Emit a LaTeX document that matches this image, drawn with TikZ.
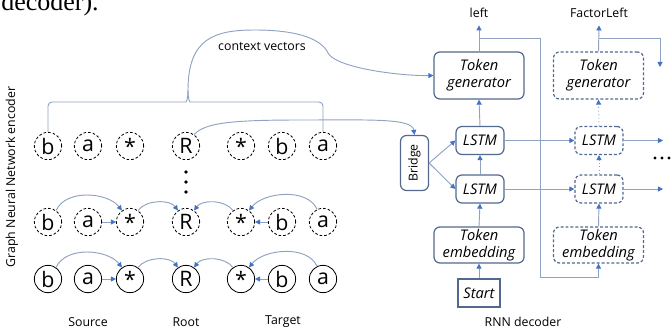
\documentclass[tikz,border=0pt]{standalone}
\usepackage{fontspec}
\setmainfont{Open Sans}
\newfontfamily\seriffam{Liberation Serif}
\usetikzlibrary{arrows.meta,calc}
\definecolor{linec}{HTML}{8FA2C2}
\definecolor{tipc}{HTML}{4472C4}
\definecolor{boxc}{HTML}{52688F}
\begin{document}
\begin{tikzpicture}[x=0.75pt,y=-0.75pt,
 conn/.style={draw=linec,line width=0.7pt},
 arr/.style={-{Triangle[length=3.8pt,width=3.8pt,color=tipc]}},
 circ/.style={circle,draw=black,line width=0.6pt,minimum size=20.5pt,inner sep=0pt,font=\fontsize{16}{18}\selectfont},
 dcirc/.style={circ,dash pattern=on 2pt off 1.5pt},
 rbox/.style={draw=boxc,line width=0.9pt,rounded corners=4.5pt,inner sep=0pt,align=center,font=\fontsize{11}{12.5}\selectfont\itshape},
 dbox/.style={rbox,dash pattern=on 2.2pt off 1.5pt},
 lab/.style={font=\fontsize{9.25}{11}\selectfont},
]
\useasboundingbox (0,0) rectangle (672,333);

% text fragment at top
\node[anchor=base west,inner sep=0pt,font=\seriffam\fontsize{19.5}{22}\selectfont] (frag) at (1,10) {decoder).};

% encoder circles
\foreach \n/\x/\t in {b/48/b, a/88/a, s/130/\raisebox{-2.5pt}{*}, R/186/R, ts/241/\raisebox{-2.5pt}{*}, tb/282/b, ta/323/a} {
  \node[dcirc] (\n1) at (\x,146) {\t};
  \node[dcirc] (\n2) at (\x,222) {\t};
  \node[circ] (\n3) at (\x,279) {\t};
}
\foreach \r in {2,3} {
  \draw[conn,arr] (b\r.55) .. controls +(10,-22) and +(-14,-18) .. (s\r.125);
  \draw[conn,arr] (a\r.east) -- (s\r.west);
  \draw[conn,arr] (s\r.55) .. controls +(8,-11) and +(-8,-11) .. (R\r.125);
  \draw[conn,arr] (ts\r.125) .. controls +(-8,-11) and +(8,-11) .. (R\r.55);
  \draw[conn,arr] (tb\r.west) -- (ts\r.east);
  \draw[conn,arr] (ta\r.115) .. controls +(-10,-22) and +(14,-18) .. (ts\r.55);
}
\fill (186,172) circle (1.4pt);
\fill (186,182) circle (1.4pt);
\fill (186,192) circle (1.4pt);

\node[lab,rotate=90] (gnn) at (12,177) {Graph Neural Network encoder};
\node[lab] (src) at (88,322) {Source};
\node[lab] (root) at (186,322) {Root};
\node[lab] (tgt) at (283,322) {Target};
\node[lab] (rnn) at (523,322) {RNN decoder};

% decoder boxes
\node[rbox,minimum width=67.5pt,minimum height=35.25pt] (TG1) at (479,75.5) {Token\\generator};
\node[rbox,minimum width=36pt,minimum height=21pt] (L1) at (480,140.5) {LSTM};
\node[rbox,minimum width=36pt,minimum height=21pt] (L2) at (480,189) {LSTM};
\node[rbox,minimum width=67.5pt,minimum height=27pt] (TE1) at (479,245) {Token\\embedding};
\node[rbox,rounded corners=0pt,minimum width=31.5pt,minimum height=21pt] (ST) at (479,293) {Start};
\node[rbox,minimum width=21pt,minimum height=41.25pt,font=\fontsize{9.25}{11}\selectfont] (BR) at (414.5,163) {\rotatebox{90}{Bridge}};

\node[dbox,minimum width=67.5pt,minimum height=35.25pt] (TG2) at (598.5,75.5) {Token\\generator};
\node[dbox,minimum width=36pt,minimum height=21pt] (L1b) at (599,140.5) {LSTM};
\node[dbox,minimum width=36pt,minimum height=21pt] (L2b) at (599,189) {LSTM};
\node[dbox,minimum width=67.5pt,minimum height=27pt] (TE2) at (598.5,245) {Token\\embedding};

\node[lab,anchor=base,inner sep=6pt] (lt) at (479,17) {left};
\node[lab,anchor=base,inner sep=6pt] (fl) at (599,17) {FactorLeft};

% brace and context vectors
\coordinate (bc) at (188,90);
\draw[conn,rounded corners=3pt] (b1.north) |- (182,102) .. controls (186,102) and (188,100) .. (bc);
\draw[conn,rounded corners=3pt] (ta1.north) |- (194,102) .. controls (190,102) and (188,100) .. (bc);
\draw[conn,arr] (bc) .. controls (188,38) and (215,30) .. (255,30) .. controls (300,30) and (322,40) .. (328,53) .. controls (336,68) and (400,76) .. (TG1.west);
\node[lab] (cv) at (262,46) {context vectors};
\draw[conn,arr] (R1.55) .. controls (205,123) and (230,120) .. (300,120) .. controls (370,120) and (412,118) .. (BR.north);

% decoder connectors
\draw[conn,arr] (BR.east) -- (L1.west);
\draw[conn,arr] (BR.east) -- (L2.west);
\draw[conn,arr] (L2.north) -- (L1.south);
\draw[conn,arr] (L1.north) -- (TG1.south);
\draw[conn,arr] (TE1.north) -- (L2.south);
\draw[conn,arr] (ST.north) -- (TE1.south);
\draw[conn,arr] (TG1.north) -- (lt.south);
\coordinate (j1) at (479,38);
\draw[conn,arr] (j1) -| (540,277) -| (TE2.south);

\draw[conn,arr] (TG2.north) -- (fl.south);
\coordinate (j2) at (599,38);
\coordinate (e2) at (660,67);
\draw[conn,arr] (j2) -| (e2);

\coordinate (e3) at (663,140.5);
\coordinate (e4) at (663,189);
\draw[conn,arr] (L1.east) -- (L1b.west);
\draw[conn,arr] (L2.east) -- (L2b.west);
\draw[conn,arr] (L1b.east) -- (e3);
\draw[conn,arr] (L2b.east) -- (e4);
\draw[conn,arr,dotted] (L2b.north) -- (L1b.south);
\draw[conn,arr,dotted] (L1b.north) -- (TG2.south);
\draw[conn,arr] (TE2.north) -- (L2b.south);

\fill (655,158) circle (1.2pt);
\fill (662,158) circle (1.2pt);
\fill (669,158) circle (1.2pt);
\end{tikzpicture}
\end{document}
